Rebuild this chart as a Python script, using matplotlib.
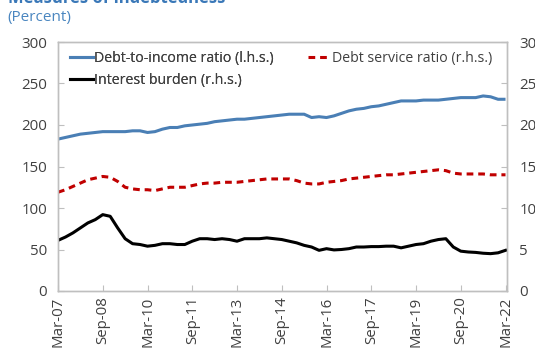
import matplotlib
matplotlib.use("Agg")
import matplotlib.pyplot as plt
from matplotlib.lines import Line2D

plt.rcParams['font.family'] = ['Open Sans', 'DejaVu Sans']

tick_labels = ["Mar-07", "Sep-08", "Mar-10", "Sep-11", "Mar-13", "Sep-14",
               "Mar-16", "Sep-17", "Mar-19", "Sep-20", "Mar-22"]

# Quarterly, Mar-07 .. Mar-22 (61 quarters)
debt_to_income = [183, 185, 187, 189, 190, 191, 192, 192, 192, 192, 193, 193,
                  191, 192, 195, 197, 197, 199, 200, 201, 202, 204, 205, 206,
                  207, 207, 208, 209, 210, 211, 212, 213, 213, 213, 209, 210,
                  209, 211, 214, 217, 219, 220, 222, 223, 225, 227, 229, 229,
                  229, 230, 230, 230, 231, 232, 233, 233, 233, 235, 234, 231, 231]

debt_service = [11.9, 12.2, 12.6, 13.0, 13.4, 13.6, 13.8, 13.7, 13.2, 12.5, 12.3, 12.2,
                12.2, 12.1, 12.3, 12.5, 12.5, 12.5, 12.7, 12.9, 13.0, 13.0, 13.1, 13.1,
                13.1, 13.2, 13.3, 13.4, 13.5, 13.5, 13.5, 13.5, 13.3, 13.0, 12.9, 12.9,
                13.1, 13.2, 13.3, 13.5, 13.6, 13.7, 13.8, 13.9, 14.0, 14.0, 14.1, 14.2,
                14.3, 14.4, 14.5, 14.6, 14.5, 14.2, 14.1, 14.1, 14.1, 14.1, 14.0, 14.0, 14.0]

interest_burden = [6.1, 6.5, 7.0, 7.6, 8.2, 8.6, 9.2, 9.0, 7.6, 6.3, 5.7, 5.6,
                   5.4, 5.5, 5.7, 5.7, 5.6, 5.6, 6.0, 6.3, 6.3, 6.2, 6.3, 6.2,
                   6.0, 6.3, 6.3, 6.3, 6.4, 6.3, 6.2, 6.0, 5.8, 5.5, 5.3, 4.9,
                   5.1, 4.95, 5.0, 5.1, 5.3, 5.3, 5.35, 5.35, 5.4, 5.4, 5.2, 5.4,
                   5.6, 5.7, 6.0, 6.2, 6.3, 5.3, 4.8, 4.7, 4.65, 4.55, 4.5, 4.6, 4.9]

left_ticks = [0, 50, 100, 150, 200, 250, 300]
right_ticks = [0, 5, 10, 15, 20, 25, 30]

x = list(range(len(debt_to_income)))
tick_pos = list(range(0, len(debt_to_income), 6))

BLUE = "#4a7fb5"
RED = "#c00000"
TXT = "#404040"
SPINE = "#bfbfbf"

fig = plt.figure(figsize=(5.35, 3.49), dpi=100)
ax = fig.add_axes([58/535, 58/349, (507-58)/535, (291-42)/349])
ax2 = ax.twinx()

l1, = ax.plot(x, debt_to_income, color=BLUE, lw=2.2, solid_capstyle='butt')
l2, = ax2.plot(x, debt_service, color=RED, lw=2.2, ls=(0, (2.2, 1.6)))
l3, = ax2.plot(x, interest_burden, color="black", lw=2.2)

ax.set_xlim(0, 60.2)
ax.set_ylim(0, 300)
ax2.set_ylim(0, 30)
ax.set_yticks(left_ticks)
ax.set_yticklabels([str(v) for v in left_ticks])
ax2.set_yticks(right_ticks)
ax2.set_yticklabels([str(v) for v in right_ticks])
ax.set_xticks(tick_pos)
ax.set_xticklabels(tick_labels, rotation=90)

for a in (ax, ax2):
    for s in a.spines.values():
        s.set_color(SPINE)
        s.set_linewidth(1.0)
ax.tick_params(axis='y', direction='in', length=4, color=SPINE,
               labelsize=10.8, labelcolor=TXT, pad=8)
ax.tick_params(axis='x', direction='in', length=4, color=SPINE,
               labelsize=10.8, labelcolor=TXT, pad=4)
ax2.tick_params(axis='y', direction='in', length=4, color=SPINE,
                labelsize=10.8, labelcolor=TXT, pad=9)

h1 = Line2D([], [], color=BLUE, lw=2.2)
h3 = Line2D([], [], color="black", lw=2.2)
h2 = Line2D([], [], color=RED, lw=2.2, ls=(0, (2.2, 1.6)))
leg1 = ax.legend([h1, h3], ["Debt-to-income ratio (l.h.s.)", "Interest burden (r.h.s.)"],
                 loc='upper left', bbox_to_anchor=(0.01, 0.995), frameon=False,
                 fontsize=10.2, handlelength=1.6, handletextpad=0.1,
                 labelspacing=0.5, borderaxespad=0.15, labelcolor=TXT)
ax.add_artist(leg1)
ax2.legend([h2], ["Debt service ratio (r.h.s.)"], loc='upper left',
           bbox_to_anchor=(0.54, 0.995), frameon=False, fontsize=10.2,
           handlelength=1.6, handletextpad=0.1, borderaxespad=0.15, labelcolor=TXT)

fig.text(8/535, 1 - 3/349, "Measures of indebtedness", color="#3a78b8",
         fontsize=12, fontweight='bold', va='baseline', ha='left')
fig.text(7/535, 1 - 17/349, "(Percent)", color="#4a86c0", fontsize=11,
         va='center', ha='left')

fig.savefig("out.png", dpi=100)
